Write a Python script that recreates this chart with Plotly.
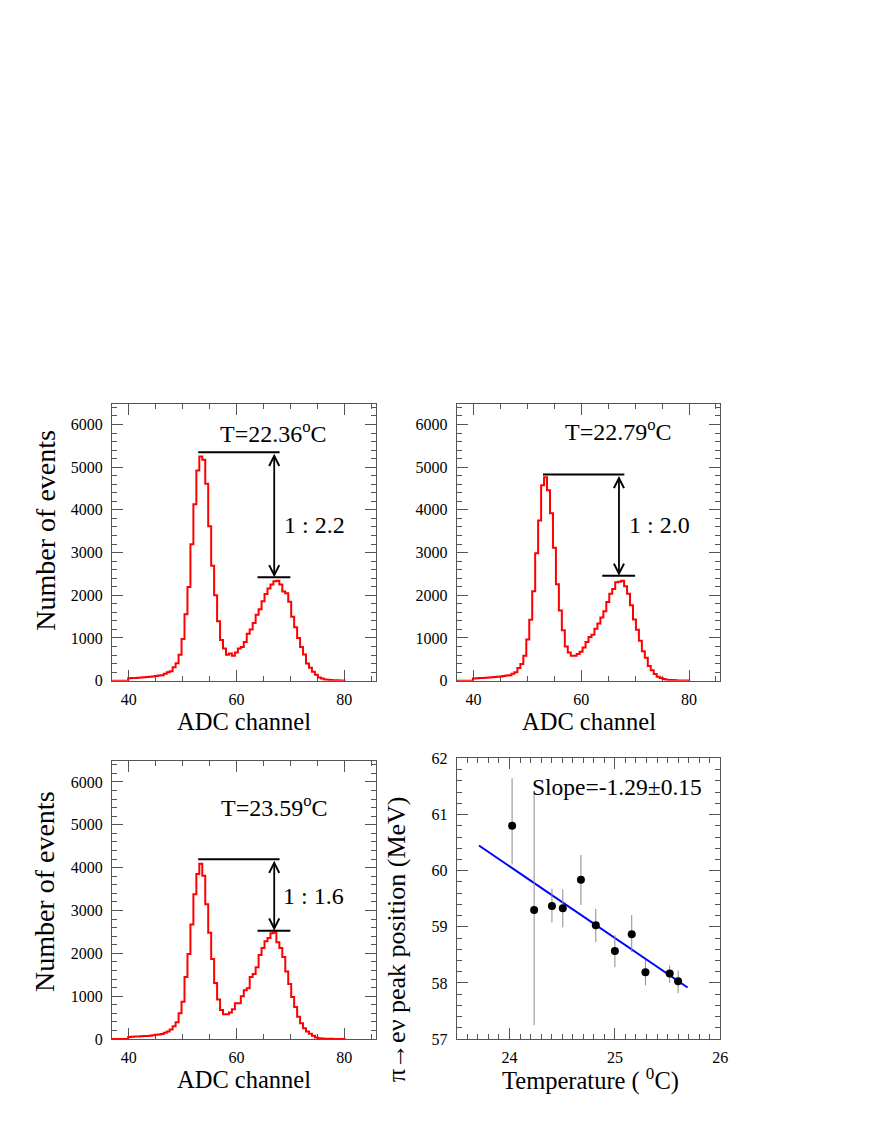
import plotly.graph_objects as go

PAGE_W, PAGE_H = 872, 1128
OFF = 8  # default body margin around the plot div
W, H = PAGE_W - 2 * OFF, PAGE_H - 2 * OFF

# ---- ADC spectra (bin contents) ----
bin_start = 39.9
bin_width = 0.55
adc_range = [36.9, 85.8]

counts_t2236 = [55, 60, 65, 70, 75, 80, 88, 95, 100, 110, 120,
                130, 160, 200, 220, 315, 407, 606,
                975, 1558, 2195, 3193, 4130, 4920, 5250, 5173, 4613, 3615,
                2694, 2003, 1389, 952, 752, 606, 637, 583, 660, 752,
                790, 906, 1097, 1197, 1350, 1543,
                1673, 1860, 2030, 2160, 2250, 2330, 2340, 2250, 2090, 2050,
                1850, 1500, 1250, 1000, 790, 614, 400, 300, 207, 138,
                77, 54, 30, 23, 15, 12, 8, 5, 3]

counts_t2279 = [50, 55, 60, 65, 70, 75, 80, 88, 95, 100, 110, 120,
                130, 161, 200, 299, 391, 583, 967, 1428, 2095, 2986,
                3753, 4574, 4766, 4459, 3921, 3115, 2256, 1642, 1182, 798,
                660, 583, 583, 622, 675, 775, 906, 1021,
                1075, 1215, 1340, 1480, 1627, 1842, 2034, 2149, 2303, 2318,
                2341, 2210, 2034, 1765, 1435, 1190, 936, 691, 537, 345,
                246, 154, 92, 61, 38, 23, 18, 14, 10, 7, 5, 3, 2]

counts_t2359 = [50, 55, 60, 60, 65, 70, 75, 80, 90, 100, 110, 120,
                146, 176, 222, 299, 391, 605, 873, 1448, 1984, 2673,
                3378, 3853, 4090, 3815, 3148, 2482, 1869, 1310, 927, 682,
                582, 582, 620, 697, 835, 835, 1003, 1141, 1185, 1450,
                1520, 1675,
                1961, 2129, 2283, 2359, 2470, 2490, 2260, 2129, 1915, 1578,
                1287, 980, 751, 521, 368, 253, 176, 123, 77, 38,
                23, 15, 10, 8, 6, 5, 4, 3, 2]

temps = ["22.36", "22.79", "23.59"]
ratios = ["2.2", "2.0", "1.6"]
peak1_level = [5350, 4830, 4200]
peak2_level = [2420, 2455, 2530]
peak1_span = [52.9, 68.0]
peak2_span = [63.9, 70.0]
arrow_adc = 67.0

# ---- peak position vs temperature ----
temperature = [24.025, 24.234, 24.403, 24.506, 24.678, 24.819, 25.0, 25.16, 25.29, 25.52, 25.60]
peak_pos = [60.80, 59.30, 59.37, 59.33, 59.84, 59.03, 58.57, 58.87, 58.19, 58.17, 58.03]
err_up = [0.85, 2.07, 0.31, 0.34, 0.44, 0.29, 0.28, 0.34, 0.22, 0.14, 0.19]
err_down = [0.69, 2.05, 0.29, 0.34, 0.45, 0.30, 0.29, 0.32, 0.23, 0.17, 0.21]
fit_t = [23.71, 25.69]
fit_peak = [60.45, 57.92]
slope_label = "Slope=-1.29\u00b10.15"

FONT = "Liberation Serif"
FRAME = "#555555"


def px_x(x0, x1):
    return [(x0 - OFF) / W, (x1 - OFF) / W]


def px_y(top, bottom):
    return [1 - (bottom - OFF) / H, 1 - (top - OFF) / H]


panels = [
    dict(xd=px_x(113, 379), yd=px_y(402, 683)),
    dict(xd=px_x(461, 727), yd=px_y(402, 683)),
    dict(xd=px_x(113, 379), yd=px_y(765, 1047)),
    dict(xd=px_x(461, 727), yd=px_y(762, 1047)),
]

fig = go.Figure()


def axis_style(dtick, minor_dtick, rng, domain, anchor, standoff):
    return dict(
        domain=domain, anchor=anchor, range=rng, dtick=dtick, tick0=0,
        showline=True, linecolor=FRAME, linewidth=1, mirror="allticks",
        ticks="inside", ticklen=11, tickcolor=FRAME, tickwidth=1,
        showgrid=False, zeroline=False, layer="below traces",
        ticklabelstandoff=standoff,
        tickfont=dict(family=FONT, size=16, color="black"),
        minor=dict(ticks="inside", ticklen=5, tickcolor=FRAME, dtick=minor_dtick, showgrid=False),
    )


hist_sets = [counts_t2236, counts_t2279, counts_t2359]
label_pos = [(66.8, 5830, 68.4, 3650), (67.0, 5870, 68.4, 3640), (67.1, 5440, 68.3, 3340)]
annotations = []

for i, counts in enumerate(hist_sets):
    n = i + 1
    xa = "x" if n == 1 else f"x{n}"
    ya = "y" if n == 1 else f"y{n}"
    edges = [adc_range[0]] + [bin_start + bin_width * k for k in range(len(counts) + 1)]
    levels = [0] + counts + [0]
    fig.add_trace(go.Scatter(x=edges, y=levels, mode="lines",
                             line=dict(color="red", width=2, shape="hv"),
                             xaxis=xa, yaxis=ya, hoverinfo="skip"))
    # horizontal markers at both peak heights
    fig.add_trace(go.Scatter(x=peak1_span, y=[peak1_level[i]] * 2, mode="lines",
                             line=dict(color="black", width=2), xaxis=xa, yaxis=ya))
    fig.add_trace(go.Scatter(x=peak2_span, y=[peak2_level[i]] * 2, mode="lines",
                             line=dict(color="black", width=2), xaxis=xa, yaxis=ya))
    annotations.append(dict(
        x=arrow_adc, y=peak2_level[i], ax=arrow_adc, ay=peak1_level[i],
        xref=xa, yref=ya, axref=xa, ayref=ya, text="", showarrow=True,
        arrowhead=5, startarrowhead=5, arrowside="end+start",
        arrowwidth=1.8, arrowsize=1.1, startarrowsize=1.1, arrowcolor="black",
        standoff=0, startstandoff=0))
    tx, ty, rx, ry = label_pos[i]
    annotations.append(dict(x=tx, y=ty, xref=xa, yref=ya, showarrow=False,
                            text=f"T={temps[i]}<sup>o</sup>C",
                            font=dict(family=FONT, size=24, color="black")))
    annotations.append(dict(x=rx, y=ry, xref=xa, yref=ya, showarrow=False,
                            xanchor="left", text=f"1 : {ratios[i]}",
                            font=dict(family=FONT, size=24, color="black")))

    p = panels[i]
    fig.layout[f"xaxis{'' if n == 1 else n}"] = axis_style(20, 5, adc_range, p["xd"], ya, 4)
    fig.layout[f"yaxis{'' if n == 1 else n}"] = axis_style(1000, 200, [0, 6480], p["yd"], xa, 5)

# peak position vs temperature
fig.add_trace(go.Scatter(x=fit_t, y=fit_peak, mode="lines",
                         line=dict(color="blue", width=2), xaxis="x4", yaxis="y4"))
fig.add_trace(go.Scatter(
    x=temperature, y=peak_pos, mode="markers",
    marker=dict(color="black", size=8),
    error_y=dict(type="data", array=err_up, arrayminus=err_down, symmetric=False,
                 color="#8c8c8c", thickness=1, width=0),
    xaxis="x4", yaxis="y4"))
fig.layout.xaxis4 = axis_style(1, 0.1, [23.5, 26.0], panels[3]["xd"], "y4", 4)
fig.layout.yaxis4 = axis_style(1, 0.2, [57, 62], panels[3]["yd"], "x4", 5)
annotations.append(dict(x=25.02, y=61.49, xref="x4", yref="y4", showarrow=False,
                        text=slope_label, font=dict(family=FONT, size=23.5, color="black")))


def title(text, x, y, angle=0, size=25):
    return dict(x=(x - OFF) / W, y=1 - (y - OFF) / H, xref="paper", yref="paper",
                showarrow=False, text=text, textangle=angle,
                xanchor="center", yanchor="middle",
                font=dict(family=FONT, size=size, color="black"))


annotations += [
    title("Number of events", 45, 530, -90, 28),
    title("Number of events", 45, 897, -90, 28),
    title("ADC channel", 246, 724, 0, 24.5),
    title("ADC channel", 594, 724, 0, 24.5),
    title("ADC channel", 246, 1088, 0, 24.5),
    title("Temperature ( <sup>0</sup>C)", 596, 1088, 0, 24.5),
    title("\u03c0\u2192e\u03bd peak position (MeV)", 400, 945, -90, 26),
]

fig.update_layout(
    width=W, height=H,
    margin=dict(l=0, r=0, t=0, b=0),
    paper_bgcolor="white", plot_bgcolor="white",
    showlegend=False,
    font=dict(family=FONT, color="black"),
    annotations=annotations,
)

fig.write_html("out.html")
